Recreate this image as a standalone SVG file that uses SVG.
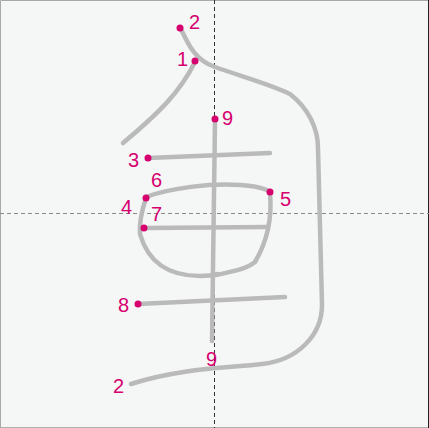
<svg xmlns="http://www.w3.org/2000/svg" width="429" height="428" viewBox="0 0 429 428">
<style>
.s{fill:none;stroke:#bababa;stroke-width:4.5;stroke-linecap:round;stroke-linejoin:round}
.d{fill:#d6006f}
.n{fill:#d6006f;font-family:"Liberation Sans",Arial,sans-serif;font-size:20px}
.g{stroke-width:1;stroke-dasharray:4,3}
</style>
<rect x="0" y="0" width="429" height="428" fill="#f5f6f6"/>
<path d="M0.5 428V0.5H429" fill="none" stroke="#a8a8a8"/>
<path d="M0 427.5H428" stroke="#b0b0b0"/>
<path d="M428.5 0V428" stroke="#222"/>
<g id="grid">
<line class="g" x1="0" y1="213.5" x2="429" y2="213.5" stroke="#8a8a8a"/>
<line class="g" x1="214.5" y1="0" x2="214.5" y2="428" stroke="#333"/>
</g>
<g id="connectors">
<path id="s1" class="s" d="M195 62C180 92 160 112 123 143"/>
<path id="s2" class="s" d="M181 29C188 44 195 60 215 67C240 76 270 84 290 94C308 108 318 128 318 148L322 305C322 335 298 360 262 364C230 368 180 368 131 384"/>
<path id="s3" class="s" d="M148 158L270 153"/>
<path id="s4" class="s" d="M146 198C142 210 139 222 140 234C148 262 168 276 200 276C210 276 214 275 218 274"/>
<path id="s5" class="s" d="M270 193C272 215 268 240 255 262C245 270 230 272 212 276"/>
<path id="s6" class="s" d="M146 197C170 188 210 183 240 185C255 186 265 188 270 192"/>
<path id="s7" class="s" d="M144 228L268 227"/>
<path id="s8" class="s" d="M138 304L285 297"/>
<path id="s9" class="s" d="M215 120L212 341"/>
</g>
<g id="dots">
<circle class="d" cx="195" cy="61" r="3.5"/>
<circle class="d" cx="180" cy="28" r="3.5"/>
<circle class="d" cx="215" cy="119" r="3.5"/>
<circle class="d" cx="148" cy="158" r="3.5"/>
<circle class="d" cx="146" cy="198" r="3.5"/>
<circle class="d" cx="270" cy="192" r="3.5"/>
<circle class="d" cx="144" cy="228" r="3.5"/>
<circle class="d" cx="138" cy="304" r="3.5"/>
</g>
<g id="labels">
<text class="n" x="189" y="29">2</text>
<text class="n" x="177" y="66">1</text>
<text class="n" x="222" y="125">9</text>
<text class="n" x="128" y="167">3</text>
<text class="n" x="151" y="187">6</text>
<text class="n" x="280" y="206">5</text>
<text class="n" x="121" y="214">4</text>
<text class="n" x="151" y="221">7</text>
<text class="n" x="118" y="312">8</text>
<text class="n" x="206" y="366">9</text>
<text class="n" x="113" y="393">2</text>
</g>
</svg>
